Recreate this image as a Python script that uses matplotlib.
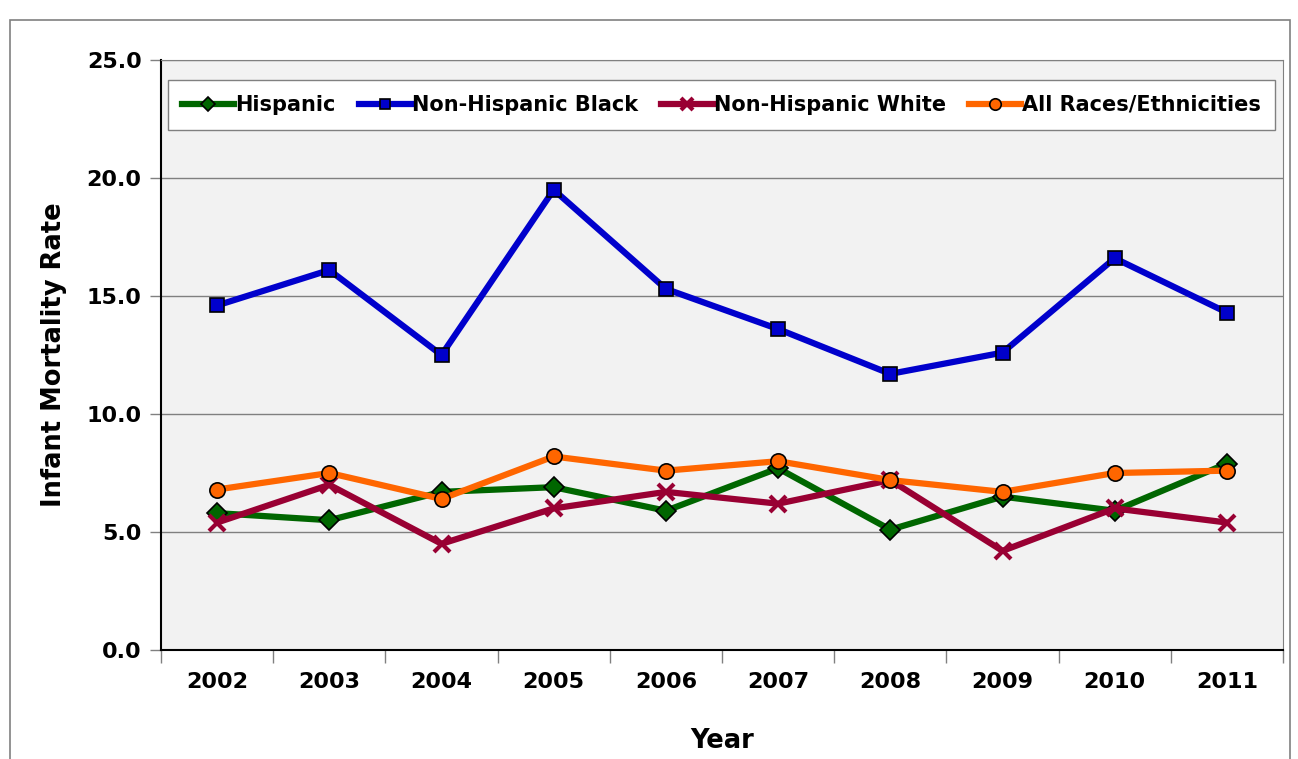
import matplotlib
matplotlib.use("Agg")
import matplotlib.pyplot as plt
from matplotlib.patches import Rectangle
import numpy as np

years = ["2002", "2003", "2004", "2005", "2006", "2007", "2008", "2009", "2010", "2011"]
hispanic = [5.8, 5.5, 6.7, 6.9, 5.9, 7.7, 5.1, 6.5, 5.9, 7.9]
nh_black = [14.6, 16.1, 12.5, 19.5, 15.3, 13.6, 11.7, 12.6, 16.6, 14.3]
nh_white = [5.4, 7.0, 4.5, 6.0, 6.7, 6.2, 7.2, 4.2, 6.0, 5.4]
all_races = [6.8, 7.5, 6.4, 8.2, 7.6, 8.0, 7.2, 6.7, 7.5, 7.6]
yticks = [0, 5, 10, 15, 20, 25]

W, H = 1298, 759
fig = plt.figure(figsize=(W / 100, H / 100), dpi=100)
fig.patch.set_facecolor("white")
fig.patches.append(Rectangle((10 / W, -0.1), (1290 - 10) / W, (H - 20) / H + 0.1,
                             transform=fig.transFigure, fill=False,
                             edgecolor="#808080", linewidth=1.2))

ax = fig.add_axes([161 / W, (H - 650) / H, (1283 - 161) / W, (650 - 60) / H])
ax.set_facecolor("#F2F2F2")
x = np.arange(len(years))

series = [
    ("Hispanic", hispanic, "#006600", "D", 10),
    ("Non-Hispanic Black", nh_black, "#0000CC", "s", 10),
    ("Non-Hispanic White", nh_white, "#990033", "x", 12),
    ("All Races/Ethnicities", all_races, "#FF6600", "o", 11),
]
order = [1, 0, 2, 3]
handles = {}
for i in order:
    name, vals, col, mk, ms = series[i]
    if mk == "x":
        h, = ax.plot(x, vals, color=col, lw=4.5, marker=mk, markersize=ms,
                     markeredgewidth=3, markeredgecolor=col, label=name, zorder=3 + i)
    else:
        h, = ax.plot(x, vals, color=col, lw=4.5, marker=mk, markersize=ms,
                     markerfacecolor=col, markeredgecolor="black",
                     markeredgewidth=1.2, label=name, zorder=3 + i)
    handles[name] = h

ax.set_xlim(-0.5, len(years) - 0.5)
ax.set_ylim(0, 25)
ax.set_yticks(yticks)
ax.set_yticklabels([f"{v:.1f}" for v in yticks])
ax.yaxis.grid(True, color="#808080", linewidth=1)
ax.set_axisbelow(True)

ax.set_xticks(np.arange(-0.5, len(years), 1.0))
ax.set_xticklabels([])
ax.set_xticks(x, minor=True)
ax.set_xticklabels(years, minor=True)
ax.tick_params(axis="x", which="major", length=9, color="#808080", width=1)
ax.tick_params(axis="x", which="minor", length=0, pad=16)
ax.tick_params(axis="y", length=8, color="#808080", width=1, pad=6)

for lab in ax.get_xticklabels(minor=True) + ax.get_yticklabels():
    lab.set_fontsize(16)
    lab.set_fontweight("bold")
    lab.set_fontfamily("DejaVu Sans")

ax.spines["left"].set_color("black")
ax.spines["bottom"].set_color("black")
ax.spines["left"].set_linewidth(1.5)
ax.spines["bottom"].set_linewidth(1.5)
ax.spines["top"].set_color("#808080")
ax.spines["right"].set_color("#808080")

ax.set_ylabel("Infant Mortality Rate", fontsize=18.5, fontweight="bold", labelpad=14)
ax.set_xlabel("Year", fontsize=18.5, fontweight="bold", labelpad=26)

cx = ((172 + 1271) / 2 - 161) / (1283 - 161)
cy = 1 - ((80 + 130) / 2 - 60) / 590
leg = ax.legend([handles[s[0]] for s in series], [s[0] for s in series],
                loc="center", bbox_to_anchor=(cx, cy),
                ncol=4, frameon=True, fancybox=False,
                edgecolor="#808080", facecolor="white", framealpha=1,
                prop={"weight": "bold", "size": 15, "family": "DejaVu Sans"},
                handlelength=2.5, handletextpad=0.05, columnspacing=1.1,
                borderaxespad=0, borderpad=0.7, markerscale=0.75)
leg.get_frame().set_linewidth(1)

fig.savefig("out.png", dpi=100)
